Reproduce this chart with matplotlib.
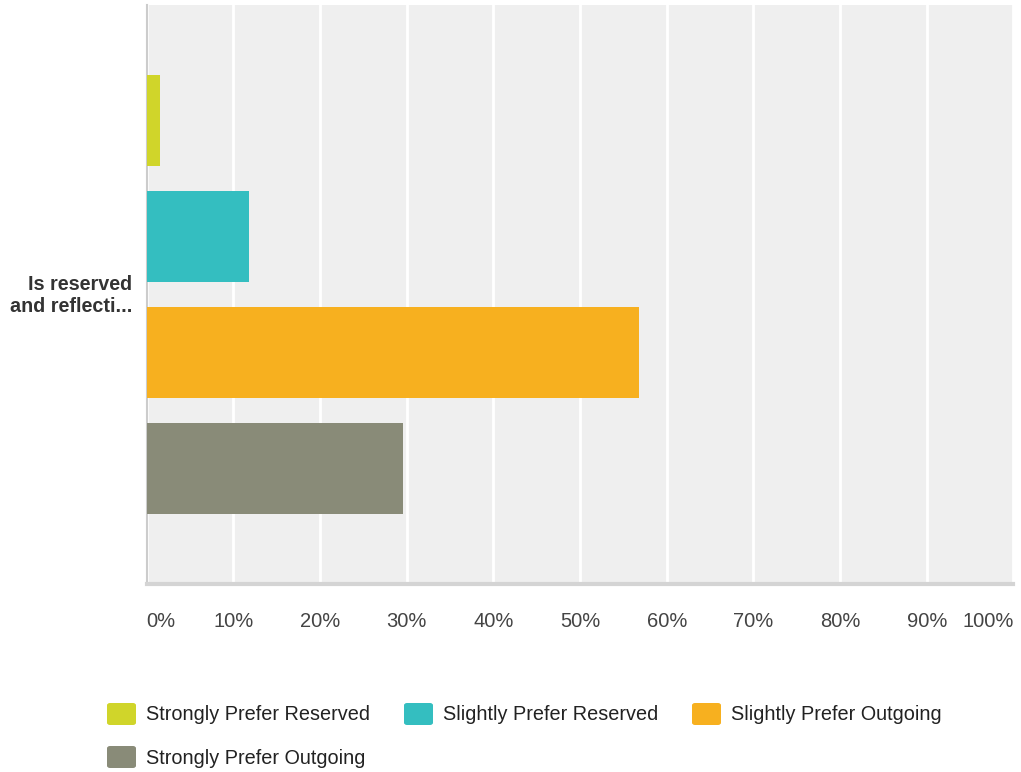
import matplotlib
matplotlib.use("Agg")

import matplotlib.pyplot as plt
from matplotlib.patches import FancyBboxPatch

plt.rcParams["font.family"] = ["Liberation Sans", "DejaVu Sans"]

# Survey answer shares (%)
categories = [
    "Strongly Prefer Reserved",
    "Slightly Prefer Reserved",
    "Slightly Prefer Outgoing",
    "Strongly Prefer Outgoing",
]
values = [1.5, 11.8, 56.8, 29.6]
colors = ["#d0d52a", "#34bec0", "#f7b01f", "#898b78"]
question = "Is reserved\nand reflecti..."
xticks = list(range(0, 101, 10))
xtick_labels = [f"{t}%" for t in xticks]

W, H = 1021, 772
fig = plt.figure(figsize=(W / 100, H / 100), dpi=100)
ax = fig.add_axes([146.7 / W, 1 - 584 / H, 866.7 / W, 579 / H])
ax.set_facecolor("#efefef")

ypos = list(range(len(values)))
ax.barh(ypos, values, height=0.785, color=colors, zorder=3)
ax.set_ylim(4, -1)
ax.set_xlim(0, 100)

ax.set_xticks(xticks)
ax.set_xticklabels(xtick_labels)
ax.tick_params(axis="x", length=0, pad=20, labelsize=14.5, labelcolor="#444444")
labels = ax.get_xticklabels()
labels[0].set_ha("left")
labels[-1].set_ha("right")
ax.set_yticks([])
ax.grid(True, axis="x", color="white", linewidth=2, zorder=1)

for side in ["top", "right"]:
    ax.spines[side].set_visible(False)
ax.spines["left"].set_color("#cccccc")
ax.spines["left"].set_linewidth(1.5)
ax.spines["left"].set_zorder(2)
ax.spines["bottom"].set_color("#d4d4d4")
ax.spines["bottom"].set_linewidth(3)

fig.text(132 / W, 1 - 295 / H, question, ha="right", va="center",
         fontsize=14.2, fontweight="bold", color="#333333", linespacing=1.2)

# Legend drawn manually to match layout
legend_pos = [(107, 714), (404, 714), (692, 714), (107, 757)]
for (lx, ly), label, col in zip(legend_pos, categories, colors):
    sq = FancyBboxPatch((lx / W, 1 - (ly + 11) / H), 29 / W, 22 / H,
                        boxstyle="round,pad=0,rounding_size=0.003",
                        transform=fig.transFigure, facecolor=col,
                        edgecolor="none")
    fig.patches.append(sq)
    fig.text((lx + 39) / W, 1 - (ly + 1) / H, label, ha="left", va="center",
             fontsize=14.3, color="#222222")

fig.savefig("out.png", dpi=100)
plt.close(fig)
